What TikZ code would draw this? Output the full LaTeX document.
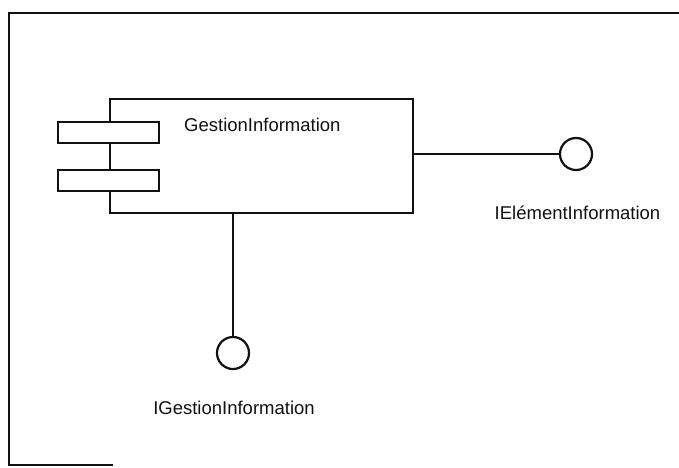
\documentclass[tikz,border=0pt]{standalone}
\usepackage{fontspec}
\setmainfont{Liberation Sans}
\usepackage{tikz}
\usepackage{xcolor}
\usetikzlibrary{positioning,calc}
\definecolor{ink}{HTML}{111111}
\definecolor{paper}{HTML}{FFFFFF}
\tikzset{
  compbox/.style={draw=ink,fill=paper,line width=2.2pt,inner sep=0pt,outer sep=0pt,
                  minimum width=303pt,minimum height=114pt},
  tabbox/.style={draw=ink,fill=paper,line width=2.2pt,inner sep=0pt,outer sep=0pt,
                 minimum width=101pt,minimum height=21pt},
  lollipop/.style={draw=ink,fill=paper,circle,line width=2.2pt,inner sep=0pt,
                   outer sep=0pt,minimum size=32pt},
  iflabel/.style={font=\fontsize{18.5}{21}\selectfont,text=ink,inner sep=0pt},
  wire/.style={line width=2.2pt,color=ink},
  frameline/.style={line width=2pt,color=ink}
}

\begin{document}
\begin{tikzpicture}[x=1pt,y=-1pt]
  \useasboundingbox (0,0) rectangle (679,467);
  % frame of the scanned page
  \draw[frameline] (679,13) -- (9,13) -- (9,465) -- (113,465);

  \node[compbox] (comp) at (261.5,156) {};
  \node[tabbox] (tabup) at (108.5,132.5) {};
  \node[tabbox] (tabdown) at (108.5,180.5) {};
  \node[iflabel,anchor=west] (compname) at (184,125) {GestionInformation};

  \node[lollipop] (elemball) at (576,154) {};
  \node[iflabel] (elemname) at (577.5,213) {IElémentInformation};
  \draw[wire] (comp.east |- elemball) -- (elemball.west);

  \node[lollipop] (gestball) at (233,353) {};
  \node[iflabel] (gestname) at (234,408) {IGestionInformation};
  \draw[wire] (gestball |- comp.south) -- (gestball.north);
\end{tikzpicture}
\end{document}
